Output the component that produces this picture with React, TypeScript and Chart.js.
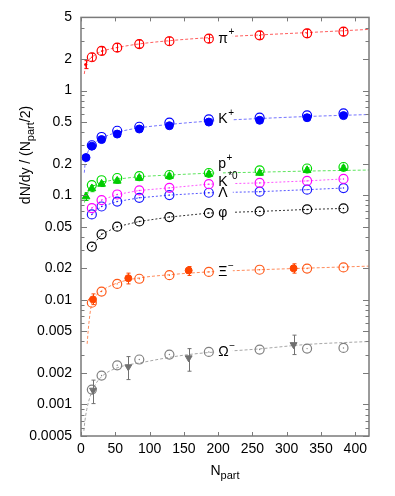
import React, { useEffect, useRef } from 'react';
import { Chart, registerables } from 'chart.js';

Chart.register(...registerables);

const FONT = '"Liberation Sans", Arial, Helvetica, sans-serif';

// ---- axes ----
const X_TICKS = [0, 50, 100, 150, 200, 250, 300, 350, 400];
const Y_TICKS = [0.0005, 0.001, 0.002, 0.005, 0.01, 0.02, 0.05, 0.1, 0.2, 0.5, 1, 2, 5];
const Y_TICK_LABELS = ['0.0005', '0.001', '0.002', '0.005', '0.01', '0.02', '0.05', '0.1', '0.2', '0.5', '1', '2', '5'];
const X_MIN = 0;
const X_MAX = 420;
const Y_MIN = 0.0005;
const Y_MAX = 5;
const X_TITLE = ['N', 'part'];
const Y_TITLE = ['dN/dy / (N', 'part', '/2)'];

// ---- centrality classes (open symbols) ----
const NPART = [15.8, 30.0, 52.8, 85.0, 128.9, 186.4, 260.5, 329.7, 382.8];

// pi+
const PI_OPEN = [2.08, 2.39, 2.57, 2.78, 2.96, 3.13, 3.37, 3.52, 3.65];
const PI_LO = [1.91, 2.19, 2.36, 2.55, 2.71, 2.87, 3.09, 3.22, 3.34];
const PI_HI = [2.27, 2.61, 2.81, 3.04, 3.24, 3.42, 3.68, 3.85, 3.99];
const PI_PERIPH_N = [6.9];
const PI_PERIPH = [1.77];
const PI_PERIPH_LO = [1.62];
const PI_PERIPH_HI = [1.93];
const PI_FIT_N = [4.8, 6, 8, 11, 15, 22, 30, 45, 60, 85, 130, 186, 260, 330, 420];
const PI_FIT = [1.44, 1.62, 1.8, 1.95, 2.06, 2.23, 2.36, 2.52, 2.63, 2.79, 3.0, 3.2, 3.4, 3.58, 3.84];

// K+
const K_OPEN = [0.30, 0.36, 0.413, 0.451, 0.493, 0.53, 0.55, 0.58, 0.606];
const K_FILLED_N = [7.3, 15.8, 30.0, 52.8, 85.0, 128.9, 186.4, 260.5, 329.7, 382.8];
const K_FILLED = [0.229, 0.294, 0.34, 0.384, 0.429, 0.461, 0.50, 0.52, 0.55, 0.576];
const K_LO = [0.215, 0.282, 0.325, 0.367, 0.41, 0.44, 0.478, 0.497, 0.526, 0.55];
const K_HI = [0.243, 0.307, 0.355, 0.401, 0.448, 0.482, 0.522, 0.543, 0.575, 0.602];
const K_FIT_N = [4.8, 6, 8, 11, 15, 22, 30, 45, 60, 85, 130, 186, 260, 330, 420];
const K_FIT = [0.164, 0.2, 0.235, 0.268, 0.293, 0.325, 0.35, 0.385, 0.41, 0.44, 0.475, 0.51, 0.54, 0.565, 0.59];

// p+
const P_OPEN = [0.125, 0.139, 0.146, 0.152, 0.156, 0.163, 0.173, 0.18, 0.186];
const P_FILLED_N = [7.3, 15.8, 30.0, 52.8, 85.0, 128.9, 186.4, 260.5, 329.7, 382.8];
const P_FILLED = [0.097, 0.116, 0.128, 0.137, 0.146, 0.152, 0.159, 0.163, 0.173, 0.181];
const P_LO = [0.089, 0.108, 0.121, 0.13, 0.138, 0.144, 0.151, 0.155, 0.164, 0.172];
const P_HI = [0.105, 0.124, 0.135, 0.145, 0.154, 0.16, 0.168, 0.172, 0.182, 0.191];
const P_FIT_N = [5, 6, 8, 11, 15, 22, 30, 45, 60, 85, 130, 186, 260, 330, 420];
const P_FIT = [0.085, 0.092, 0.101, 0.11, 0.118, 0.126, 0.132, 0.139, 0.144, 0.15, 0.156, 0.162, 0.166, 0.17, 0.174];

// K*0, Lambda, phi
const KSTAR = [0.0754, 0.0898, 0.1016, 0.111, 0.1175, 0.1275, 0.131, 0.137, 0.143];
const LAMBDA = [0.0655, 0.078, 0.087, 0.0944, 0.1002, 0.1055, 0.108, 0.113, 0.117];
const PHI = [0.0323, 0.0423, 0.05, 0.0561, 0.0618, 0.0675, 0.07, 0.0731, 0.0747];

// Xi-
const XI_OPEN = [0.00938, 0.0120, 0.0142, 0.0159, 0.0172, 0.0185, 0.0194, 0.0199, 0.0204];
const MS_N = [17.5, 69, 157, 310];
const XI_FILLED = [0.0101, 0.0161, 0.0191, 0.020];
const XI_LO = [0.0090, 0.0142, 0.0171, 0.0180];
const XI_HI = [0.0114, 0.0180, 0.0208, 0.0221];
const XI_FIT_N = [9, 10.5, 12, 14, 16, 20, 30, 45, 60, 85, 130, 186, 260, 330, 420];
const XI_FIT = [0.0038, 0.0051, 0.0064, 0.0081, 0.0094, 0.0106, 0.0122, 0.0138, 0.0150, 0.0162, 0.0174, 0.0185, 0.0194, 0.0201, 0.021];

// Omega-
const OM_OPEN = [0.00139, 0.00189, 0.00237, 0.00269, 0.0030, 0.00318, 0.00335, 0.00342, 0.00347];
const OM_FILLED = [0.00137, 0.00229, 0.00279, 0.00373];
const OM_LO = [0.00102, 0.00173, 0.00208, 0.0030];
const OM_HI = [0.00171, 0.00287, 0.00342, 0.0046];
const OM_FIT_N = [4.2, 5.5, 8.3, 13.1, 20.4, 30.2, 49.6, 93, 157, 260, 330, 420];
const OM_FIT = [0.00056, 0.00068, 0.00089, 0.00118, 0.00153, 0.00185, 0.0022, 0.00255, 0.0030, 0.0034, 0.00375, 0.0040];

// ---- curve labels ----
const LABEL_NAMES = ['π', 'K', 'p', 'K', 'Λ', 'φ', 'Ξ', 'Ω'];
const LABEL_SUPS = ['+', '+', '+', '*0', '', '', '−', '−'];

const LABEL_STYLE = [
  { anchor: 'piOpen', line: 'piFit', dy: 0, gapEnd: 24 },
  { anchor: 'kOpen', line: 'kFit', dy: 0, gapEnd: 24 },
  { anchor: 'pOpen', line: 'pFit', dy: -9, gapEnd: 14 },
  { anchor: 'kstar', line: 'kstar', dy: -2, gapEnd: 26 },
  { anchor: 'lambda', line: 'lambda', dy: 0, gapEnd: 24 },
  { anchor: 'phi', line: 'phi', dy: 0, gapEnd: 26 },
  { anchor: 'xiOpen', line: 'xiFit', dy: 0, gapEnd: 24 },
  { anchor: 'omOpen', line: 'omFit', dy: 0, gapEnd: 24 },
];
const LABEL_ANCHOR_INDEX = 5; // the N_part = 186 point

function pts(xs: number[], ys: number[]) {
  return xs.map((x, i) => ({ x, y: ys[i] }));
}

function fit(id: string, xs: number[], ys: number[], color: string) {
  return {
    id, data: pts(xs, ys), showLine: true, pointRadius: 0, borderColor: color,
    borderWidth: 1, borderDash: [3, 2], cubicInterpolationMode: 'monotone', order: 10,
  };
}

function openCircles(id: string, xs: number[], ys: number[], color: string, extra: any = {}) {
  return {
    id, data: pts(xs, ys), showLine: false, pointStyle: 'circle', pointRadius: 4.5,
    pointBorderWidth: 1.2, borderColor: color, pointBorderColor: color,
    pointBackgroundColor: 'rgba(0,0,0,0)', backgroundColor: 'rgba(0,0,0,0)',
    centerDot: true, dotColor: color, order: 1, ...extra,
  };
}

function filled(id: string, xs: number[], ys: number[], color: string, style: string, r: number, extra: any = {}) {
  return {
    id, data: pts(xs, ys), showLine: false, pointStyle: style, pointRadius: r,
    pointBorderWidth: 1, pointBorderColor: color, pointBackgroundColor: color,
    borderColor: color, backgroundColor: color, order: 0, ...extra,
  };
}

function lineYAt(meta: any, x: number) {
  const els = meta.data;
  for (let i = 0; i < els.length - 1; i++) {
    const a = els[i], b = els[i + 1];
    if (x >= a.x && x <= b.x) {
      const t = (x - a.x) / (b.x - a.x || 1);
      return a.y + t * (b.y - a.y);
    }
  }
  return els[els.length - 1].y;
}

const decorPlugin = {
  id: 'decor',
  afterDatasetsDraw(chart: any) {
    const { ctx, chartArea: a, scales } = chart;
    const ys = scales.y;
    const xs = scales.x;
    const dsList = chart.data.datasets;
    const metaOf = (id: string) => {
      const idx = dsList.findIndex((d: any) => d.id === id);
      return chart.getDatasetMeta(idx);
    };

    // error bars and centre dots
    dsList.forEach((ds: any, i: number) => {
      const meta = chart.getDatasetMeta(i);
      if (ds.errLo) {
        ctx.save();
        ctx.strokeStyle = ds.errColor || ds.borderColor;
        ctx.lineWidth = 1;
        meta.data.forEach((el: any, j: number) => {
          const x = Math.round(el.x) + 0.5;
          const y1 = ys.getPixelForValue(ds.errLo[j]);
          const y2 = ys.getPixelForValue(ds.errHi[j]);
          ctx.beginPath();
          ctx.moveTo(x, y1); ctx.lineTo(x, y2);
          ctx.moveTo(x - 2, y1); ctx.lineTo(x + 2, y1);
          ctx.moveTo(x - 2, y2); ctx.lineTo(x + 2, y2);
          ctx.stroke();
        });
        ctx.restore();
      }
      if (ds.centerDot) {
        ctx.save();
        ctx.fillStyle = ds.dotColor;
        meta.data.forEach((el: any) => {
          ctx.beginPath();
          ctx.arc(el.x, el.y, 0.7, 0, Math.PI * 2);
          ctx.fill();
        });
        ctx.restore();
      }
    });

    // labels with gaps in the curves
    LABEL_STYLE.forEach((st) => {
      const am = metaOf(st.anchor);
      const el = am.data[LABEL_ANCHOR_INDEX];
      const lm = metaOf(st.line);
      const x1 = el.x + 5.5;
      const x2 = el.x + st.gapEnd;
      ctx.save();
      ctx.strokeStyle = '#ffffff';
      ctx.lineWidth = 4;
      ctx.beginPath();
      ctx.moveTo(x1, lineYAt(lm, x1));
      ctx.lineTo(x2, lineYAt(lm, x2));
      ctx.stroke();
      ctx.restore();
    });
    LABEL_STYLE.forEach((st, k) => {
      const am = metaOf(st.anchor);
      const el = am.data[LABEL_ANCHOR_INDEX];
      const tx = el.x + 9.5;
      const ty = el.y + st.dy;
      ctx.save();
      ctx.fillStyle = '#000';
      ctx.textBaseline = 'middle';
      ctx.textAlign = 'left';
      ctx.font = `14px ${FONT}`;
      ctx.fillText(LABEL_NAMES[k], tx, ty);
      const w = ctx.measureText(LABEL_NAMES[k]).width;
      if (LABEL_SUPS[k]) {
        ctx.font = `10px ${FONT}`;
        ctx.fillText(LABEL_SUPS[k], tx + w + 0.5, ty - 6);
      }
      ctx.restore();
    });

    // frame and inward ticks
    ctx.save();
    ctx.strokeStyle = '#7a7a7a';
    ctx.lineWidth = 1.5;
    ctx.strokeRect(a.left, a.top, a.right - a.left, a.bottom - a.top);
    ctx.lineWidth = 1;
    ctx.beginPath();
    X_TICKS.forEach((v) => {
      const x = Math.round(xs.getPixelForValue(v)) + 0.5;
      ctx.moveTo(x, a.bottom); ctx.lineTo(x, a.bottom - 4);
      ctx.moveTo(x, a.top); ctx.lineTo(x, a.top + 4);
    });
    for (let e = -4; e <= 0; e++) {
      for (let m = 1; m <= 9; m++) {
        const v = m * Math.pow(10, e);
        if (v < Y_MIN * 0.999 || v > Y_MAX * 1.001) continue;
        const major = Y_TICKS.some((t) => Math.abs(t - v) / t < 1e-6);
        const len = major ? 6 : 3.5;
        const y = Math.round(ys.getPixelForValue(v)) + 0.5;
        ctx.moveTo(a.left, y); ctx.lineTo(a.left + len, y);
        ctx.moveTo(a.right, y); ctx.lineTo(a.right - len, y);
      }
    }
    ctx.stroke();
    ctx.restore();
  },
  afterDraw(chart: any) {
    const { ctx, chartArea: a } = chart;
    ctx.save();
    ctx.fillStyle = '#000';
    ctx.textBaseline = 'alphabetic';
    ctx.textAlign = 'left';
    // x title
    ctx.font = `14px ${FONT}`;
    const w1 = ctx.measureText(X_TITLE[0]).width;
    ctx.font = `11px ${FONT}`;
    const w2 = ctx.measureText(X_TITLE[1]).width;
    const cx = (a.left + a.right) / 2;
    const sx = cx - (w1 + w2) / 2;
    ctx.font = `14px ${FONT}`;
    ctx.fillText(X_TITLE[0], sx, 475);
    ctx.font = `11px ${FONT}`;
    ctx.fillText(X_TITLE[1], sx + w1, 479);
    // y title
    ctx.translate(30, 155);
    ctx.rotate(-Math.PI / 2);
    const fonts = [`14px ${FONT}`, `11px ${FONT}`, `14px ${FONT}`];
    const offs = [0, 4, 0];
    const widths = Y_TITLE.map((t, i) => { ctx.font = fonts[i]; return ctx.measureText(t).width; });
    let px = -widths.reduce((s, v) => s + v, 0) / 2;
    Y_TITLE.forEach((t, i) => {
      ctx.font = fonts[i];
      ctx.fillText(t, px, offs[i]);
      px += widths[i];
    });
    ctx.restore();
  },
};

export default function App() {
  const ref = useRef<HTMLCanvasElement | null>(null);
  useEffect(() => {
    if (!ref.current) return;
    const datasets: any[] = [
      fit('piFit', PI_FIT_N, PI_FIT, 'rgba(255,40,40,0.75)'),
      fit('kFit', K_FIT_N, K_FIT, 'rgba(70,70,255,0.75)'),
      fit('pFit', P_FIT_N, P_FIT, 'rgba(40,220,40,0.75)'),
      fit('xiFit', XI_FIT_N, XI_FIT, 'rgba(255,110,50,0.8)'),
      fit('omFit', OM_FIT_N, OM_FIT, 'rgba(150,150,150,0.85)'),
      openCircles('piOpen', NPART, PI_OPEN, '#ff0000', { errLo: PI_LO, errHi: PI_HI }),
      filled('piPeriph', PI_PERIPH_N, PI_PERIPH, '#ff0000', 'circle', 1.2, { errLo: PI_PERIPH_LO, errHi: PI_PERIPH_HI }),
      openCircles('kOpen', NPART, K_OPEN, '#0000ff'),
      filled('kFilled', K_FILLED_N, K_FILLED, '#0000ff', 'circle', 4, { errLo: K_LO, errHi: K_HI }),
      openCircles('pOpen', NPART, P_OPEN, '#00dd00'),
      filled('pFilled', P_FILLED_N, P_FILLED, '#00cc00', 'triangle', 4.5, { errLo: P_LO, errHi: P_HI }),
      openCircles('kstar', NPART, KSTAR, '#ff00ff', { showLine: true, borderWidth: 1, borderDash: [2, 2], borderColor: '#ff55ff' }),
      openCircles('lambda', NPART, LAMBDA, '#1a1aff', { showLine: true, borderWidth: 1, borderDash: [2, 2], borderColor: '#5555ff' }),
      openCircles('phi', NPART, PHI, '#000000', { showLine: true, borderWidth: 1, borderDash: [2, 2], borderColor: '#333333' }),
      openCircles('xiOpen', NPART, XI_OPEN, '#ff5a1a'),
      filled('xiFilled', MS_N, XI_FILLED, '#ff4500', 'circle', 3.5, { errLo: XI_LO, errHi: XI_HI }),
      openCircles('omOpen', NPART, OM_OPEN, '#808080'),
      filled('omFilled', MS_N, OM_FILLED, '#707070', 'triangle', 4, { rotation: 180, pointRotation: 180, errLo: OM_LO, errHi: OM_HI }),
    ];

    const chart = new Chart(ref.current, {
      type: 'scatter',
      data: { datasets },
      options: {
        animation: false,
        responsive: false,
        layout: { padding: { top: 16, right: 26, left: 0, bottom: 0 } },
        plugins: { legend: { display: false }, tooltip: { enabled: false } },
        scales: {
          x: {
            type: 'linear', min: X_MIN, max: X_MAX,
            grid: { display: false, drawTicks: false }, border: { display: false },
            ticks: { font: { family: FONT, size: 14 }, color: '#000', padding: 5, autoSkip: false, maxRotation: 0 },
            afterBuildTicks: (s: any) => { s.ticks = X_TICKS.map((v) => ({ value: v })); },
            afterFit: (s: any) => { s.height = 60; },
          },
          y: {
            type: 'logarithmic', min: Y_MIN, max: Y_MAX,
            grid: { display: false, drawTicks: false }, border: { display: false },
            ticks: {
              font: { family: FONT, size: 14 }, color: '#000', padding: 9, autoSkip: false,
              callback: (v: any) => { const i = Y_TICKS.indexOf(Number(v)); return i >= 0 ? Y_TICK_LABELS[i] : ''; },
            },
            afterBuildTicks: (s: any) => { s.ticks = Y_TICKS.map((v) => ({ value: v })); },
            afterFit: (s: any) => { s.width = 81; },
          },
        },
      } as any,
      plugins: [decorPlugin],
    });
    return () => chart.destroy();
  }, []);
  return (
    <div style={{ position: 'fixed', left: 0, top: 0, width: 395, height: 496, background: '#fff' }}>
      <canvas ref={ref} width={395} height={496} style={{ display: 'block' }} />
    </div>
  );
}
